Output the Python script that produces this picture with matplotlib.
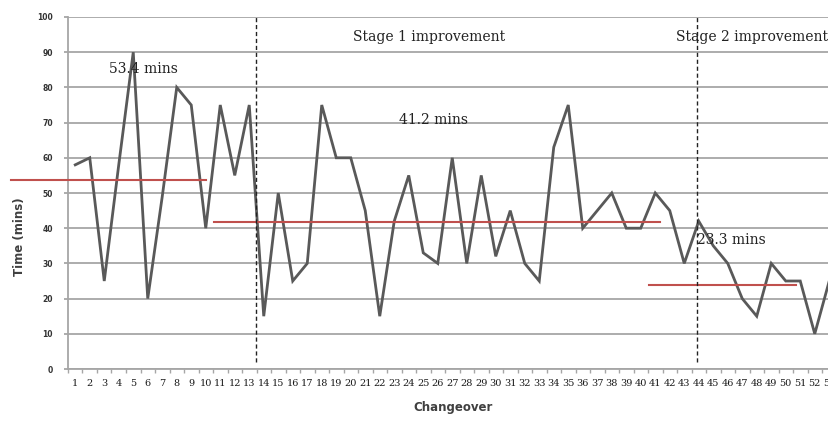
import matplotlib
matplotlib.use('Agg')
import matplotlib.pyplot as plt

# changeover times (mins)
changeover = list(range(1, 54))
times = [58, 60, 25, 58, 90, 20, 49, 80, 75, 40,
         75, 55, 75, 15, 50, 25, 30, 75, 60, 60,
         45, 15, 42, 55, 33, 30, 60, 30, 55, 32,
         45, 30, 25, 63, 75, 40, 45, 50, 40, 40,
         50, 45, 30, 42, 35, 30, 20, 15, 30, 25,
         25, 10, 25]
tick_labels = [str(c) for c in changeover]

# average lines: (start, end, level)
mean_lines = [(-3.43, 10.0, 53.6), (10.6, 41.3, 41.8), (40.6, 50.7, 23.8)]
stage_breaks = [13.45, 43.9]

W, H = 829, 423
fig = plt.figure(figsize=(W / 100, H / 100), dpi=100)
ax = fig.add_axes([68 / W, (H - 369) / H, 53 * 14.5 / W, (369 - 17) / H])

grid_c = '#a6a6a6'
ax.set_ylim(0, 100)
ax.set_xlim(0.5, 53.5)
ax.set_yticks(range(0, 101, 10))
ax.yaxis.grid(True, color=grid_c, lw=1.3)
ax.set_axisbelow(True)
for s in ['top', 'right']:
    ax.spines[s].set_visible(False)
for s in ['left', 'bottom']:
    ax.spines[s].set_color(grid_c)
    ax.spines[s].set_linewidth(1.3)

ax.plot(changeover, times, color='#595959', lw=2, solid_joinstyle='miter')

for x0, x1, y in mean_lines:
    ax.plot([x0, x1], [y, y], color='#c0504d', lw=1.5, clip_on=False, zorder=3)

for xb in stage_breaks:
    ax.plot([xb, xb], [2, 100], color='#222222', lw=1, ls=(0, (3, 2)), zorder=4)

# x ticks: labels at categories, tick marks between categories
ax.set_xticks(changeover)
ax.set_xticklabels(tick_labels, family='DejaVu Serif', fontsize=7, color='#1a1a1a')
ax.tick_params(axis='x', length=0, pad=7)
ax.set_xticks([c + 0.5 for c in range(0, 54)], minor=True)
ax.tick_params(axis='x', which='minor', length=3, color=grid_c, width=1)
ax.tick_params(axis='y', length=3, color=grid_c, width=1.3, labelsize=5.5,
               labelcolor='#333333', pad=8)
for lbl in ax.get_yticklabels():
    lbl.set_fontweight('bold')

serif = dict(family='DejaVu Serif', fontsize=10, color='#222222', va='center')
ax.text(3.34, 85.2, '53.4 mins', **serif)
ax.text(23.34, 70.7, '41.2 mins', **serif)
ax.text(43.85, 36.6, '23.3 mins', **serif)
ax.text(20.17, 94.4, 'Stage 1 improvement', **serif)
ax.text(42.43, 94.4, 'Stage 2 improvement', **serif)

fig.text(453 / W, 1 - 407 / H, 'Changeover', ha='center', va='center',
         fontsize=8.5, fontweight='bold', color='#404040')
fig.text(20 / W, 1 - 237 / H, 'Time (mins)', ha='center', va='center',
         rotation=90, fontsize=8.5, fontweight='bold', color='#404040')

fig.savefig('out.png', dpi=100)
